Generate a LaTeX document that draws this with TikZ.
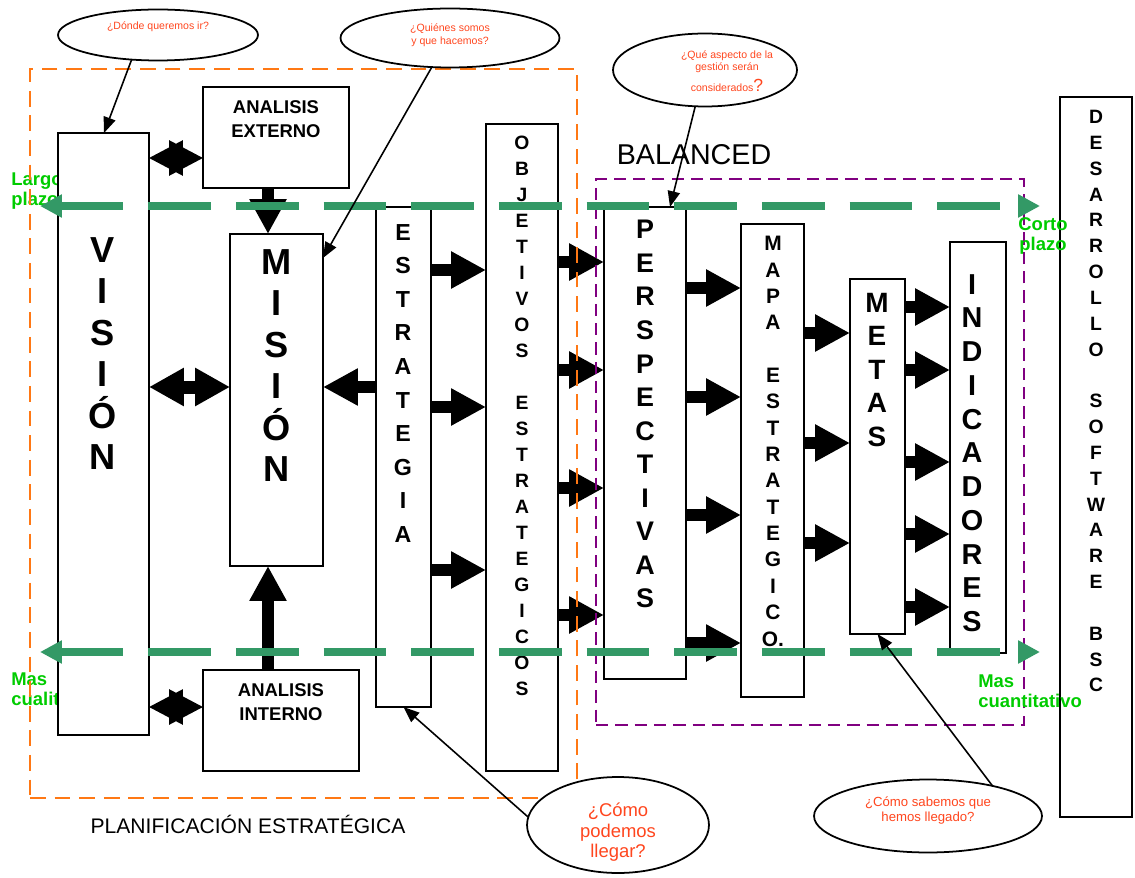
\documentclass[tikz,border=0pt]{standalone}
\usepackage{fontspec}
\setmainfont{Liberation Sans}
\usepackage{tikz}
\usetikzlibrary{shapes.geometric, arrows.meta, positioning, fit}
\definecolor{pregunta}{RGB}{255,70,30}
\definecolor{planif}{RGB}{255,120,20}
\definecolor{balanced}{RGB}{128,0,128}
\definecolor{horizonte}{RGB}{51,153,102}
\definecolor{plazo}{RGB}{0,204,0}
\newcommand{\tam}[2]{\fontsize{#1}{#2}\selectfont}
\tikzset{
    base/.style={draw=black, line width=1pt, inner sep=0pt, outer sep=0pt},
    block/.style={base, rectangle, fill=white},
    bubble/.style={base, ellipse, fill=white},
    marco/.style={rectangle, inner sep=0pt, outer sep=0pt, line width=1.1pt},
    vtext/.style={align=center, inner sep=0pt, anchor=north},
    qtext/.style={align=center, inner sep=0pt, text=pregunta},
    plazotext/.style={align=left, inner sep=0pt, text=plazo, font=\bfseries\tam{10.5}{11.8}},
    line/.style={draw=black, line width=0.9pt, -{Triangle[length=9pt, width=7pt]}},
    fat-line/.style={line width=6.8pt, -{Triangle[length=19.8pt, width=19.8pt]}},
    fat-double/.style={line width=7.4pt, {Triangle[length=19.8pt, width=20.4pt]}-{Triangle[length=19.8pt, width=20.4pt]}},
    fat-star/.style={line width=2pt, {Triangle[length=19.3pt, width=19.8pt]}-{Triangle[length=19.3pt, width=19.8pt]}},
    horizon-line/.style={draw=horizonte, line width=4.5pt, dash pattern=on 35.7pt off 14.2pt, {Triangle[length=12.5pt, width=12.5pt]}-{Triangle[length=12.5pt, width=12.5pt]}}
}

\begin{document}
\begin{tikzpicture}[x=0.02cm, y=-0.02cm]
    \fill[white] (0,0) rectangle (1135,878);
    \useasboundingbox (0,0) rectangle (1135,878);

    \node [plazotext, anchor=north west] (largo) at (11,172) {Largo\\plazo};
    \node [plazotext, anchor=north west] (cualit) at (11,672) {Mas\\cualitativo};

    % boxes
    \node [block, fit={(58,133) (149,735)}] (vis) {};
    \node [block, fit={(203,87) (349,188)}] (aext) {};
    \node [block, fit={(203,670) (359,771)}] (aint) {};
    \node [block, fit={(230,234) (323,566)}] (mis) {};
    \node [block, fit={(376,207) (431,707)}] (estr) {};
    \node [block, fit={(486,124) (558,771)}] (obj) {};
    \node [block, fit={(604,207) (686,679)}] (persp) {};
    \node [block, fit={(741,224) (804,697)}] (mapa) {};
    \node [block, fit={(850,279) (905,634)}] (metas) {};
    \node [block, fit={(950,242) (1006,653)}] (ind) {};
    \node [block, fit={(1060,97) (1132,817)}] (des) {};

    \node [vtext, font=\bfseries\tam{20.6}{23.6}] (visT) at (103,237) {V\\I\\S\\I\\Ó\\N};
    \node [vtext, font=\bfseries\tam{10.5}{13.6}] (aextT) at (276,100) {ANALISIS\\EXTERNO};
    \node [vtext, font=\bfseries\tam{10.5}{13.6}] (aintT) at (281,683) {ANALISIS\\INTERNO};
    \node [vtext, font=\bfseries\tam{20.6}{23.6}] (misT) at (277,249) {M\\I\\S\\I\\Ó\\N};
    \node [vtext, font=\bfseries\tam{13.2}{19.1}] (estrT) at (403,224) {E\\S\\T\\R\\A\\T\\E\\G\\I\\A};
    \node [vtext, font=\bfseries\tam{11}{14.8}] (objT) at (522,136) {O\\B\\J\\E\\T\\I\\V\\O\\S\\~\\E\\S\\T\\R\\A\\T\\E\\G\\I\\C\\O\\S};
    \node [vtext, font=\bfseries\tam{15.3}{19.1}] (perspT) at (645,220) {P\\E\\R\\S\\P\\E\\C\\T\\I\\V\\A\\S};
    \node [vtext, font=\bfseries\tam{11.9}{15}] (mapaT) at (773,236) {M\\A\\P\\A\\~\\E\\S\\T\\R\\A\\T\\E\\G\\I\\C\\O.};
    \node [vtext, font=\bfseries\tam{15.9}{19}] (metasT) at (877,293) {M\\E\\T\\A\\S};
    \node [vtext, font=\bfseries\tam{16.4}{19.2}] (indT) at (972,274) {I\\N\\D\\I\\C\\A\\D\\O\\R\\E\\S};
    \node [vtext, font=\bfseries\tam{11}{14.7}] (desT) at (1096,110) {D\\E\\S\\A\\R\\R\\O\\L\\L\\O\\~\\S\\O\\F\\T\\W\\A\\R\\E\\~\\B\\S\\C};

    % block arrows
    \draw [fat-star] (vis.east |- 0,158) -- (aext.west |- 0,158);
    \draw [fat-star] (vis.east |- 0,707) -- (aint.west |- 0,707);
    \draw [fat-double] (vis.east |- 0,387) -- (mis.west |- 0,387);
    \draw [fat-line] (estr.west |- 0,387) -- (mis.east |- 0,387);
    \draw [fat-line] (268,0 |- aext.south) -- (268,0 |- mis.north);
    \draw [fat-line] (268,0 |- aint.north) -- (268,0 |- mis.south);

    \draw [fat-line] (estr.east |- 0,270) -- (obj.west |- 0,270);
    \draw [fat-line] (estr.east |- 0,407) -- (obj.west |- 0,407);
    \draw [fat-line] (estr.east |- 0,570) -- (obj.west |- 0,570);

    \draw [fat-line] (obj.east |- 0,262) -- (persp.west |- 0,262);
    \draw [fat-line] (obj.east |- 0,370) -- (persp.west |- 0,370);
    \draw [fat-line] (obj.east |- 0,488) -- (persp.west |- 0,488);
    \draw [fat-line] (obj.east |- 0,615) -- (persp.west |- 0,615);

    \draw [fat-line] (persp.east |- 0,288) -- (mapa.west |- 0,288);
    \draw [fat-line] (persp.east |- 0,397) -- (mapa.west |- 0,397);
    \draw [fat-line] (persp.east |- 0,515) -- (mapa.west |- 0,515);
    \draw [fat-line] (persp.east |- 0,643) -- (mapa.west |- 0,643);

    \draw [fat-line] (mapa.east |- 0,333) -- (metas.west |- 0,333);
    \draw [fat-line] (mapa.east |- 0,443) -- (metas.west |- 0,443);
    \draw [fat-line] (mapa.east |- 0,543) -- (metas.west |- 0,543);

    \draw [fat-line] (metas.east |- 0,307) -- (ind.west |- 0,307);
    \draw [fat-line] (metas.east |- 0,370) -- (ind.west |- 0,370);
    \draw [fat-line] (metas.east |- 0,462) -- (ind.west |- 0,462);
    \draw [fat-line] (metas.east |- 0,534) -- (ind.west |- 0,534);
    \draw [fat-line] (metas.east |- 0,607) -- (ind.west |- 0,607);

    % frames
    \node [marco, draw=planif, dash pattern=on 9pt off 5pt, fit={(30,69) (577,798)}] (planifMarco) {};
    \node [marco, draw=balanced, dash pattern=on 7pt off 4pt, fit={(596,179) (1024,725)}] (balMarco) {};

    % plazo lines
    \coordinate (largoP) at (40,206);
    \coordinate (cortoP) at (1040,206);
    \coordinate (cualitP) at (40,652);
    \coordinate (cuantiP) at (1040,652);
    \draw [horizon-line] (largoP) -- (cortoP);
    \draw [horizon-line] (cualitP) -- (cuantiP);

    % questions
    \node [bubble, minimum width=4cm, minimum height=1.02cm] (donde) at (158,35) {};
    \node [bubble, minimum width=4.38cm, minimum height=1.18cm] (quienes) at (450,38) {};
    \node [bubble, minimum width=3.68cm, minimum height=1.46cm] (aspecto) at (705,70) {};
    \node [bubble, minimum width=3.64cm, minimum height=1.92cm] (como) at (618,825) {};
    \node [bubble, minimum width=4.56cm, minimum height=1.46cm] (sabemos) at (928,816) {};

    \node [qtext, font=\tam{6}{7.4}] (dondeT) at (158,27) {¿Dónde queremos ir?};
    \node [qtext, font=\tam{6}{7.4}] (quienesT) at (450,35.5) {¿Quiénes somos\\y que hacemos?};
    \node [qtext, anchor=north, font=\tam{6}{6.9}] (aspectoT) at (727,50) {¿Qué aspecto de la\\gestión serán\\[3pt]considerados{\tam{10}{10}?}};
    \node [qtext, anchor=north, font=\tam{10.5}{11.6}] (comoT) at (618,803) {¿Cómo\\podemos\\llegar?};
    \node [qtext, font=\tam{7.5}{8.5}] (sabemosT) at (928,810.5) {¿Cómo sabemos que\\hemos llegado?};

    \draw [line] (donde.223) -- (104,0 |- vis.north);
    \draw [line] (quienes.238) -- (mis.east |- 0,258);
    \draw [line] (aspecto.255) -- (670,0 |- persp.north);
    \draw [line] (como.175) -- (estr.south);
    \draw [line] (sabemos.25) -- (metas.south);

    \node [inner sep=0pt, anchor=base, font=\tam{16.3}{18}] (balT) at (694,165) {BALANCED};
    \node [inner sep=0pt, anchor=base, font=\tam{12}{14}] (planifT) at (248,833) {PLANIFICACIÓN ESTRATÉGICA};
    \node [plazotext, align=center, anchor=north] (corto) at (1043,217) {Corto\\plazo};
    \node [plazotext, anchor=north west] (cuanti) at (978,674) {Mas\\cuantitativo};
\end{tikzpicture}
\end{document}
